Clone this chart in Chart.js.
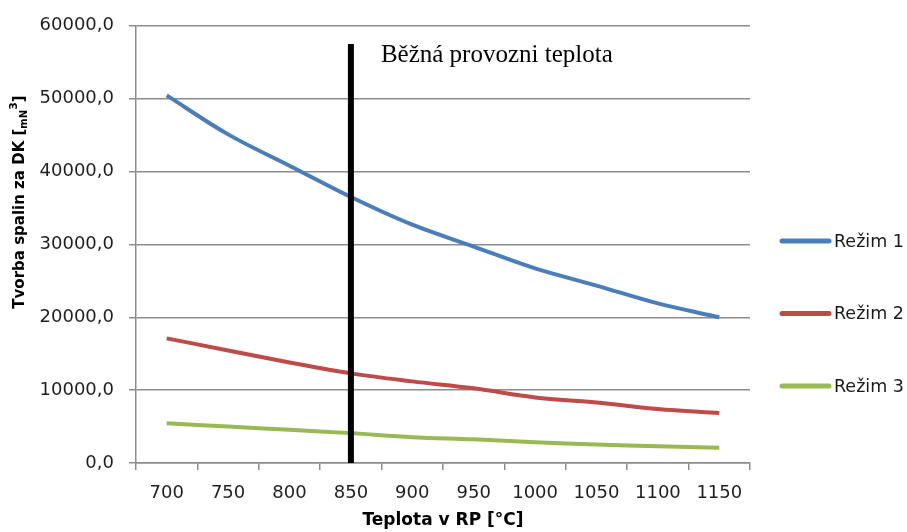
<!DOCTYPE html>
<html>
<head>
<meta charset="utf-8">
<script src="https://cdn.jsdelivr.net/npm/chart.js@4"></script>
<style>
  body { margin: 0; background: #fff; }
  #wrap { width: 907px; height: 532px; position: relative; }
</style>
</head>
<body>
<div id="wrap"><canvas id="myChart"></canvas></div>
<script>
// Data
const teploty = ['700', '750', '800', '850', '900', '950', '1000', '1050', '1100', '1150'];
const rezim1 = [50450, 45100, 40800, 36500, 32700, 29700, 26700, 24350, 21900, 20000];
const rezim2 = [17100, 15450, 13800, 12300, 11200, 10250, 9000, 8300, 7400, 6850];
const rezim3 = [5450, 5000, 4550, 4100, 3550, 3250, 2850, 2550, 2300, 2100];
const seriesNames = ['Režim 1', 'Režim 2', 'Režim 3'];
const seriesColors = ['#4a7ebb', '#be4b48', '#98b954'];
const yTicks = [0, 10000, 20000, 30000, 40000, 50000, 60000];
const markTeplota = '850';
const markLabel = 'Běžná provozni teplota';

const tickFont = { family: 'DejaVu Sans', size: 18 };

// vertical line at normal operating temperature + its label
const markerPlugin = {
    id: 'marker',
    afterDatasetsDraw(chart) {
        const { ctx, scales: { x, y } } = chart;
        const px = x.getPixelForValue(teploty.indexOf(markTeplota));
        ctx.save();
        ctx.strokeStyle = '#000';
        ctx.lineWidth = 6;
        ctx.beginPath();
        ctx.moveTo(px, y.getPixelForValue(57500));
        ctx.lineTo(px, y.getPixelForValue(0));
        ctx.stroke();
        ctx.fillStyle = '#000';
        ctx.font = '25px "Liberation Serif"';
        ctx.textBaseline = 'alphabetic';
        ctx.fillText(markLabel, px + 30, y.getPixelForValue(55100));
        ctx.restore();
    }
};

// y axis title with sub/superscript
const yTitlePlugin = {
    id: 'yTitle',
    afterDraw(chart) {
        const ctx = chart.ctx;
        const parts = [
            { t: 'Tvorba spalin za DK [', f: 'bold 15px "DejaVu Sans"', dy: 0 },
            { t: 'mN', f: 'bold 10px "DejaVu Sans"', dy: 3 },
            { t: '3', f: 'bold 11px "DejaVu Sans"', dy: -7 },
            { t: ']', f: 'bold 15px "DejaVu Sans"', dy: 0 }
        ];
        ctx.save();
        let total = 0;
        parts.forEach(p => { ctx.font = p.f; p.w = ctx.measureText(p.t).width; total += p.w; });
        ctx.translate(24, 202);
        ctx.rotate(-Math.PI / 2);
        ctx.fillStyle = '#000';
        ctx.textBaseline = 'alphabetic';
        let cx = -total / 2;
        parts.forEach(p => {
            ctx.font = p.f;
            ctx.fillText(p.t, cx, p.dy);
            cx += p.w;
        });
        ctx.restore();
    }
};

// legend on the right, line + text
const legendPlugin = {
    id: 'sideLegend',
    afterDraw(chart) {
        const { ctx, chartArea } = chart;
        ctx.save();
        ctx.font = '17.5px "DejaVu Sans"';
        ctx.textBaseline = 'middle';
        chart.data.datasets.forEach((ds, i) => {
            const ly = 241 + i * 72.5;
            const lx = chartArea.right + 32;
            ctx.strokeStyle = ds.borderColor;
            ctx.lineWidth = 5;
            ctx.lineCap = 'round';
            ctx.beginPath();
            ctx.moveTo(lx, ly);
            ctx.lineTo(lx + 47, ly);
            ctx.stroke();
            ctx.fillStyle = '#1a1a1a';
            ctx.fillText(ds.label, lx + 52, ly + 1);
        });
        ctx.restore();
    }
};

const ctx = document.getElementById('myChart');

const myChart = new Chart(ctx, {
    type: 'line',
    data: {
        labels: teploty,
        datasets: [rezim1, rezim2, rezim3].map((vals, i) => ({
            label: seriesNames[i],
            data: vals,
            borderColor: seriesColors[i],
            backgroundColor: seriesColors[i],
            borderWidth: 4,
            pointRadius: 0,
            tension: 0.35,
            fill: false
        }))
    },
    options: {
        responsive: true,
        maintainAspectRatio: false,
        animation: false,
        layout: { padding: { top: 23, right: 157, left: 0, bottom: 0 } },
        plugins: {
            legend: { display: false },
            tooltip: { enabled: false }
        },
        scales: {
            x: {
                offset: true,
                grid: { offset: true, drawOnChartArea: false, color: '#8c8c8c', lineWidth: 1.5, tickLength: 7 },
                border: { color: '#8c8c8c', width: 1.5 },
                ticks: { font: tickFont, color: '#1f1f1f', padding: 13, maxRotation: 0, autoSkip: false },
                title: {
                    display: true,
                    text: 'Teplota v RP [°C]',
                    font: { family: 'DejaVu Sans', size: 17, weight: 'bold' },
                    color: '#000',
                    padding: { top: 0, bottom: 1 }
                },
                afterFit(scale) { scale.height = 69; }
            },
            y: {
                min: 0,
                max: 60000,
                afterBuildTicks(scale) { scale.ticks = yTicks.map(v => ({ value: v })); },
                grid: { color: '#8c8c8c', lineWidth: 1.5, tickLength: 7 },
                border: { color: '#8c8c8c', width: 1.5 },
                ticks: {
                    font: tickFont,
                    color: '#1f1f1f',
                    padding: 15,
                    callback: v => v.toFixed(1).replace('.', ',')
                },
                afterFit(scale) { scale.width = 136; }
            }
        }
    },
    plugins: [markerPlugin, yTitlePlugin, legendPlugin]
});
</script>
</body>
</html>
